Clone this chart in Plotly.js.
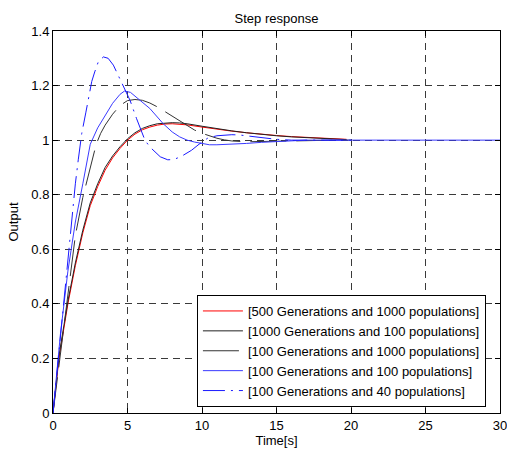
<!DOCTYPE html>
<html>
<head>
<meta charset="utf-8">
<script src="https://cdn.plot.ly/plotly-3.0.1.min.js"></script>
<style>html,body{margin:0;padding:0;background:#fff;}#chart{width:507px;height:453px;}</style>
</head>
<body>
<div id="chart"></div>
<script>
// Series names (legend)
var seriesNames = [
  '[500 Generations and 1000 populations]',
  '[1000 Generations and 100 populations]',
  '[100 Generations and 1000 populations]',
  '[100 Generations and 100 populations]',
  '[100 Generations and 40 populations]'
];

// Series 1 & 2 time base
var tA = [0,0.4,1,1.5,2,2.5,3,3.5,4,4.5,5,5.5,6,6.5,7,7.5,8,8.5,9,10,11,12,13,14,15,16,17,18,19,19.7];
var y500g1000p = [0,0.2,0.4,0.54,0.66,0.76,0.83,0.89,0.935,0.97,1.0,1.022,1.038,1.048,1.055,1.059,1.06,1.059,1.056,1.048,1.04,1.033,1.027,1.021,1.017,1.013,1.01,1.007,1.005,1.003];
var y1000g100p = [0,0.21,0.41,0.55,0.67,0.77,0.84,0.9,0.942,0.976,1.005,1.027,1.043,1.053,1.06,1.063,1.064,1.063,1.06,1.051,1.042,1.034,1.027,1.021,1.016,1.012,1.009,1.006,1.004,1.002];

// Series 3
var tB = [0,0.5,1,1.5,2,2.3,2.6,2.9,3.2,3.5,4,4.5,5,5.5,6,6.5,7,7.5,8,8.5,9,9.5,10,10.5,11,11.5,12,13,14,15,16,17,18,19,20];
var y100g1000p = [0,0.22,0.43,0.65,0.79,0.855,0.925,0.985,1.025,1.055,1.095,1.127,1.145,1.149,1.146,1.136,1.122,1.105,1.088,1.07,1.052,1.037,1.025,1.015,1.007,1.001,0.997,0.994,0.995,0.997,0.999,1.0,1.0,1.0,1.0];

// Series 4
var tC = [0,0.5,1,1.5,2,2.5,3,3.5,4,4.5,4.8,5.2,5.84,6.5,7.4,8,8.5,9,9.5,10,10.5,11,12,13,14,15,16,17,18,20,25,30];
var y100g100p = [0,0.29,0.52,0.7,0.84,0.985,1.045,1.09,1.135,1.168,1.18,1.175,1.146,1.116,1.06,1.03,1.012,1.0,0.993,0.987,0.983,0.983,0.985,0.988,0.992,0.995,0.998,1.0,1.0,1.0,1.0,1.0];

// Series 5
var tD = [0,0.3,0.69,1.03,1.3,1.5,1.7,1.93,2.2,2.4,2.6,2.8,3.04,3.38,3.7,4.05,4.5,4.8,5.17,5.6,6.17,6.5,6.85,7.2,7.7,8.1,8.6,9.3,9.8,10.4,11,11.5,12,12.5,13,13.5,14,14.5,15,16,17,18,19,20];
var y100g40p = [0,0.17,0.4,0.6,0.74,0.84,0.93,1.025,1.1,1.165,1.215,1.25,1.287,1.305,1.3,1.275,1.222,1.188,1.146,1.08,1.0,0.975,0.957,0.939,0.928,0.929,0.94,0.963,0.985,1.008,1.016,1.019,1.02,1.019,1.016,1.012,1.008,1.005,1.003,1.0,1.0,1.0,1.0,1.0];

var xTicks = [0,5,10,15,20,25,30];
var yTicks = [0,0.2,0.4,0.6,0.8,1,1.2,1.4];

var traces = [
  {x:tA, y:y500g1000p, name:seriesNames[0], mode:'lines', line:{color:'#ff0000', width:1}},
  {x:tA, y:y1000g100p, name:seriesNames[1], mode:'lines', line:{color:'#222222', width:1}},
  {x:tB, y:y100g1000p, name:seriesNames[2], mode:'lines', line:{color:'#333333', width:1, dash:'36px,10px'}},
  {x:tC, y:y100g100p, name:seriesNames[3], mode:'lines', line:{color:'#3a3aff', width:1}},
  {x:tD, y:y100g40p, name:seriesNames[4], mode:'lines', line:{color:'#1a1aff', width:1, dash:'22px,6px,2px,6px'}}
];

var axisCommon = {
  showgrid:true, gridcolor:'#3a3a3a', gridwidth:1, griddash:'7px,5px',
  showline:true, linecolor:'#000', linewidth:1, mirror:'ticks',
  ticks:'inside', ticklen:5, tickcolor:'#000', zeroline:false,
  ticklabeloverflow:'allow',
  tickfont:{size:13, color:'#000'}
};

var layout = {
  width:507, height:453,
  margin:{l:53, r:7, t:31, b:40},
  paper_bgcolor:'#fff', plot_bgcolor:'#fff',
  font:{family:'"Liberation Sans", Arial, sans-serif', size:13, color:'#000'},
  title:{text:'Step response', x:0.5, xref:'paper', y:0.960, yref:'container', yanchor:'middle', font:{size:13}},
  xaxis:Object.assign({}, axisCommon, {range:[0,30], tickvals:xTicks, ticktext:xTicks.map(String), title:{text:'Time[s]', font:{size:13}, standoff:1}}),
  yaxis:Object.assign({}, axisCommon, {range:[0,1.4], tickvals:yTicks, ticktext:yTicks.map(String), title:{text:'Output', font:{size:13}, standoff:9}}),
  showlegend:true,
  legend:{x:0.322, y:0.0157, xanchor:'left', yanchor:'bottom', bgcolor:'#fff', bordercolor:'#000', borderwidth:1, font:{size:13}, itemwidth:40, tracegroupgap:0}
};

Plotly.newPlot('chart', traces, layout, {displayModeBar:false, staticPlot:true});
</script>
</body>
</html>
